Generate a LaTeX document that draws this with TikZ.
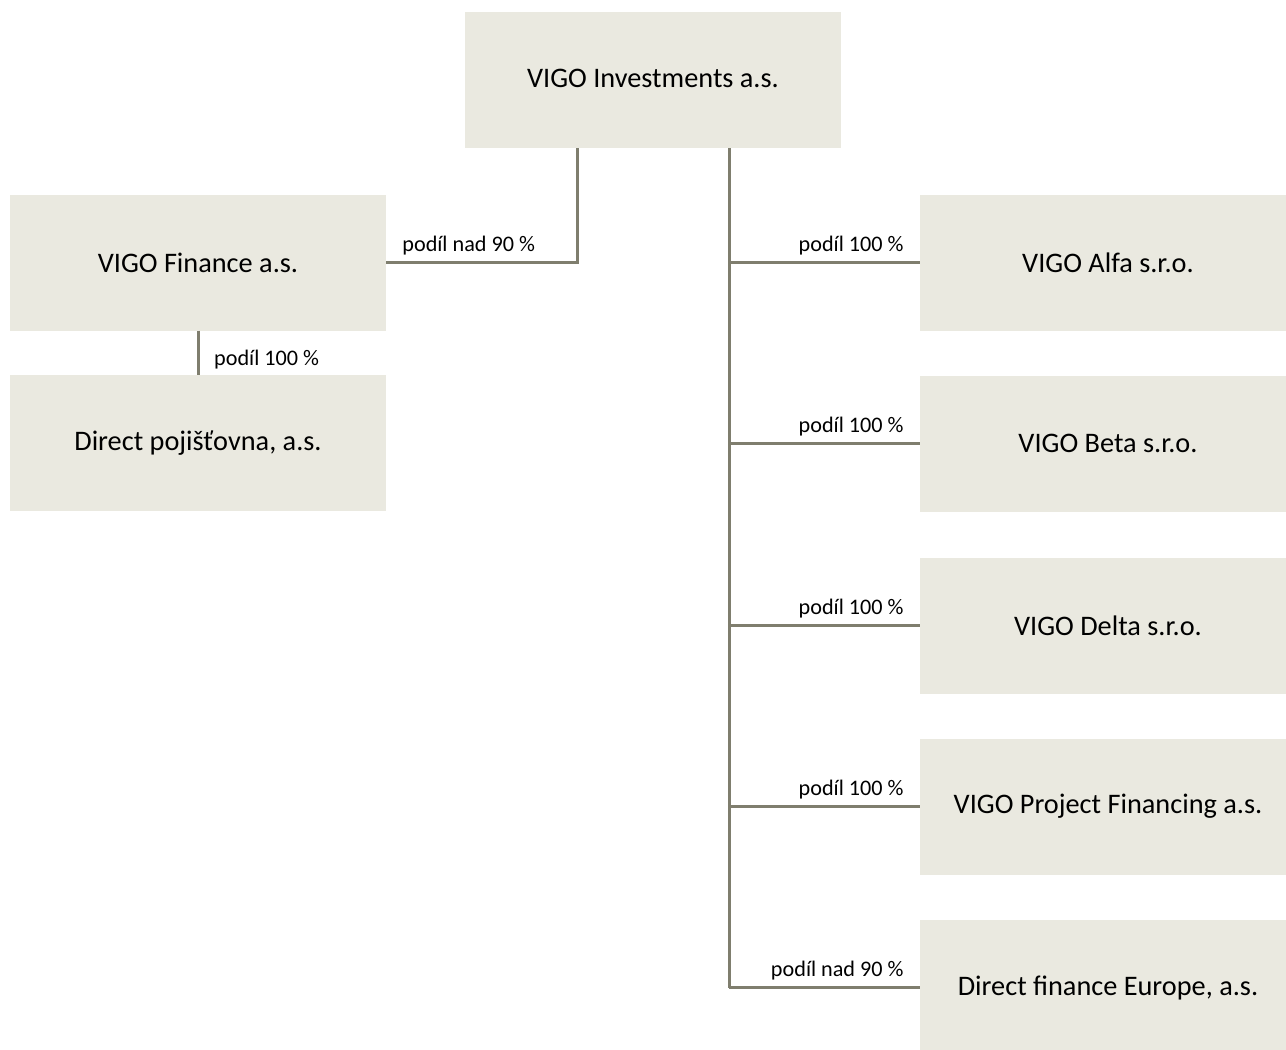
\documentclass[tikz,border=0pt]{standalone}
\usepackage{fontspec}
\setmainfont{Carlito}
\usetikzlibrary{calc}
\definecolor{boxfill}{HTML}{EAE9E0}
\definecolor{linkgray}{HTML}{7F7E6E}
\tikzset{
	firm/.style={fill=boxfill, minimum width=376, minimum height=136, inner sep=0pt,
		font=\fontsize{28.3}{34}\selectfont},
	link/.style={draw=linkgray, line width=3pt},
	share/.style={font=\fontsize{22.2}{26}\selectfont, inner sep=0pt}
}

\begin{document}
\begin{tikzpicture}[x=1pt, y=1pt]
\useasboundingbox (0,0) rectangle (1286,-1050);

\node[firm, text height=18pt, text depth=4pt] (inv) at (653,-80) {VIGO Investments a.s.};
\node[firm] (fin) at (198,-262.5) {VIGO Finance a.s.};
\node[firm] (dp) at (198,-443) {Direct pojišťovna, a.s.};

\coordinate (ltrunk) at ($(inv.south)+(-76,0)$);
\coordinate (rtrunk) at ($(inv.south)+(76,0)$);

\draw[link] (ltrunk) |- (fin.east);
\node[share, anchor=base west] (finpct) at ($(fin.east)+(16,11)$) {podíl nad 90 \%};

\draw[link] (fin.south) -- (dp.north);
\node[share, anchor=base west] (dppct) at ($(fin.south)+(16,-35)$) {podíl 100 \%};

\foreach \name/\ypos/\txt/\pct in {alfa/262.5/{VIGO Alfa s.r.o.}/{podíl 100 \%},
		beta/443.5/{VIGO Beta s.r.o.}/{podíl 100 \%},
		delta/625.5/{VIGO Delta s.r.o.}/{podíl 100 \%},
		vpf/806.5/{VIGO Project Financing a.s.}/{podíl 100 \%},
		dfe/987.5/{Direct finance Europe, a.s.}/{podíl nad 90 \%}}
{
	\node[firm] (\name) at (1108,-\ypos) {\txt};
	\draw[link] (rtrunk |- \name.west) -- (\name.west);
	\node[share, anchor=base east] (\name pct) at ($(\name.west)+(-16,11)$) {\pct};
}
\draw[link] (rtrunk) -- (rtrunk |- dfe.west);

\end{tikzpicture}
\end{document}
